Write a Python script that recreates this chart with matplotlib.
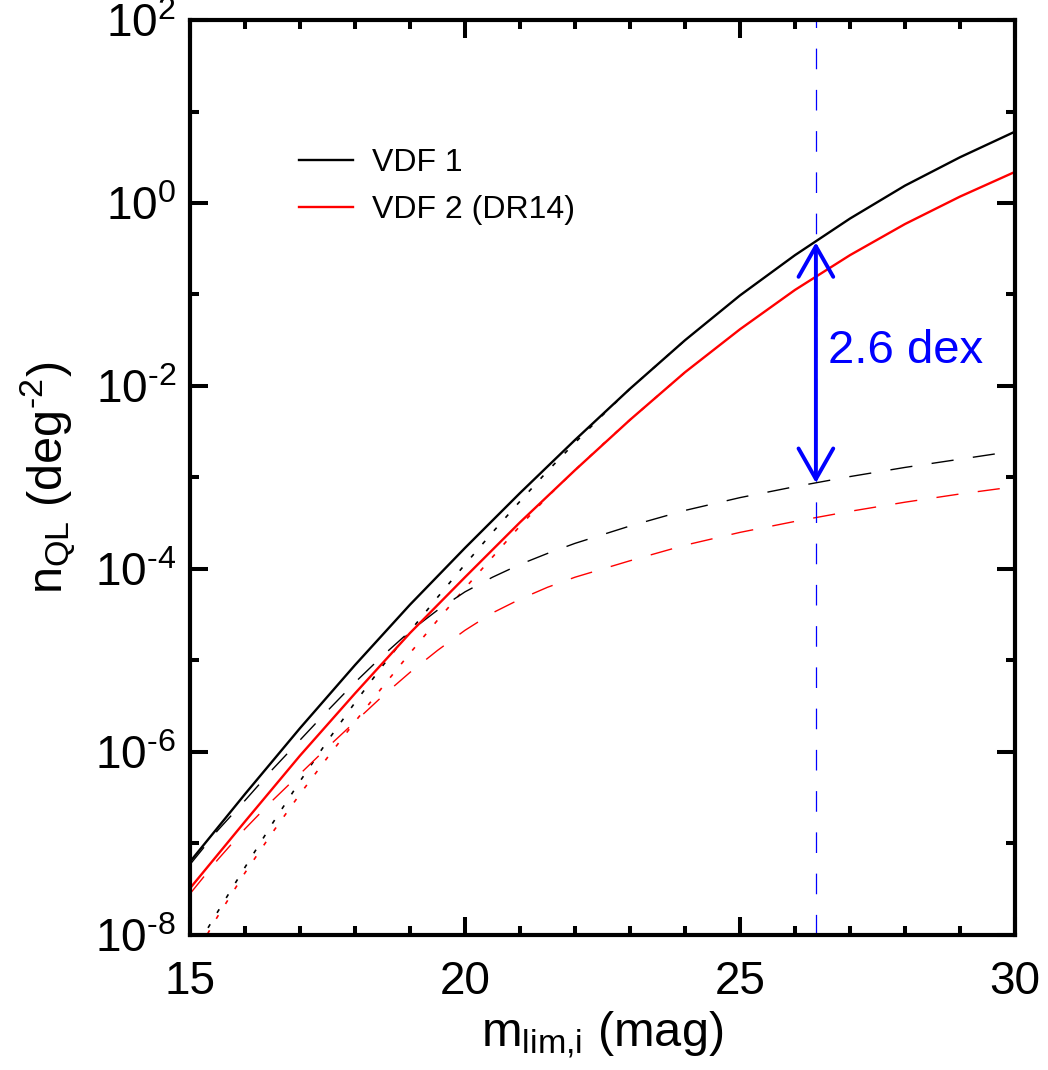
import numpy as np
import matplotlib
matplotlib.use('Agg')
import matplotlib.pyplot as plt
from matplotlib.ticker import FixedLocator, FuncFormatter, NullFormatter, MultipleLocator

plt.rcParams['font.family'] = ['Liberation Sans', 'DejaVu Sans']
plt.rcParams['mathtext.fontset'] = 'custom'
plt.rcParams['mathtext.rm'] = 'Liberation Sans'
plt.rcParams['mathtext.it'] = 'Liberation Sans:italic'

HYPH = '\u2010'  # short hyphen like the IDL labels

# limiting magnitude grid (mag)
mag = [15, 16, 17, 18, 19, 20, 21, 22, 23, 24, 25, 26, 27, 28, 29, 30]
# log10 n_QL (deg^-2)
vdf1_total = [-7.20, -6.46, -5.74, -5.05, -4.39, -3.77, -3.17, -2.59, -2.03,
              -1.50, -1.01, -0.57, -0.17, 0.19, 0.50, 0.78]
vdf2_total = [-7.49, -6.76, -6.04, -5.36, -4.70, -4.09, -3.49, -2.92, -2.37,
              -1.85, -1.38, -0.95, -0.57, -0.23, 0.07, 0.34]

# dashed components, finer grid around the bend
mag_dash = [15.0, 15.5, 16.0, 16.5, 17.0, 17.5, 18.0, 18.5, 19.0, 19.5, 20.0,
            20.5, 21.0, 21.5, 22.0, 23.0, 24.0, 25.0, 26.0, 27.0, 28.0, 29.0, 30.0]
vdf1_dashed = [-7.23, -6.86, -6.53, -6.19, -5.87, -5.55, -5.24, -4.95, -4.68,
               -4.45, -4.25, -4.09, -3.95, -3.83, -3.72, -3.53, -3.36, -3.22,
               -3.10, -2.99, -2.89, -2.80, -2.71]
vdf2_dashed = [-7.55, -7.18, -6.84, -6.53, -6.24, -5.95, -5.67, -5.39, -5.13,
               -4.89, -4.67, -4.48, -4.33, -4.20, -4.09, -3.91, -3.74, -3.60,
               -3.48, -3.37, -3.27, -3.18, -3.10]

# dotted components
mag_dot = [15.0, 15.5, 16.0, 16.5, 17.0, 17.5, 18.0, 18.5, 19.0, 19.5, 20.0,
           20.5, 21.0, 21.5, 22.0, 22.5, 23.0, 24.0]
vdf1_dotted = [-8.25, -7.75, -7.26, -6.78, -6.32, -5.88, -5.46, -5.06, -4.68,
               -4.31, -3.95, -3.60, -3.26, -2.93, -2.62, -2.32, -2.03, -1.50]
vdf2_dotted = [-8.32, -7.80, -7.32, -6.88, -6.46, -6.06, -5.67, -5.29, -4.92,
               -4.56, -4.21, -3.87, -3.53, -3.21, -2.92, -2.64, -2.37, -1.85]

mark_mag = 26.38          # vertical marker
arrow_top = -0.43         # log10 at the VDF 1 total curve
arrow_bottom = -3.06      # log10 at the VDF 1 dashed curve
dex_label = '2.6 dex'

fig = plt.figure(figsize=(10.48, 10.70), dpi=100)
ax = fig.add_axes([0.1813, 0.1262, 0.7872, 0.8551])

# dotted components
ax.plot(mag_dot, np.power(10.0, vdf1_dotted), color='black', lw=1.2, dashes=(2.5, 8))
ax.plot(mag_dot, np.power(10.0, vdf2_dotted), color='red', lw=1.2, dashes=(2.5, 8))
# dashed components
ax.plot(mag_dash, np.power(10.0, vdf1_dashed), color='black', lw=1.0, dashes=(16, 14))
ax.plot(mag_dash, np.power(10.0, vdf2_dashed), color='red', lw=1.0, dashes=(16, 14))
# totals
ax.plot(mag, np.power(10.0, vdf1_total), color='black', lw=1.7, label='VDF 1')
ax.plot(mag, np.power(10.0, vdf2_total), color='red', lw=1.7, label='VDF 2 (DR14)')

ax.axvline(mark_mag, color='blue', lw=0.9, dashes=(16.5, 16.5))
ax.annotate('', xy=(mark_mag, 10 ** arrow_top), xytext=(mark_mag, 10 ** arrow_bottom),
            arrowprops=dict(arrowstyle='<->,head_length=2.2,head_width=1.25',
                            color='blue', lw=2.8, shrinkA=0, shrinkB=0))
ax.text(26.6, 10 ** -1.75, dex_label, color='blue', fontsize=34,
        ha='left', va='baseline')

ax.set_yscale('log')
ax.set_xlim(15, 30)
ax.set_ylim(1e-8, 1e2)


def exp_label(v, pos):
    k = int(round(np.log10(v)))
    s = str(abs(k))
    if k < 0:
        s = HYPH + s
    return r'$\mathregular{10^{%s}}$' % s


ax.xaxis.set_major_locator(FixedLocator([15, 20, 25, 30]))
ax.xaxis.set_minor_locator(MultipleLocator(1))
ax.yaxis.set_major_locator(FixedLocator([10.0 ** k for k in range(-8, 3, 2)]))
ax.yaxis.set_minor_locator(FixedLocator([10.0 ** k for k in range(-7, 2, 2)]))
ax.yaxis.set_major_formatter(FuncFormatter(exp_label))
ax.yaxis.set_minor_formatter(NullFormatter())

ax.tick_params(which='both', direction='in', top=True, right=True, width=2.9)
ax.tick_params(which='major', length=13, labelsize=33)
ax.tick_params(which='minor', length=6.5)
ax.tick_params(axis='x', which='major', pad=18)
ax.tick_params(axis='y', which='major', pad=10)
for sp in ax.spines.values():
    sp.set_linewidth(3)

ax.set_xlabel(r'm$_{\mathregular{lim{,}i}}$ (mag)', fontsize=35, labelpad=4)
ax.set_ylabel(r'n$_{\mathregular{QL}}$ (deg$^{\mathregular{%s2}}$)' % HYPH,
              fontsize=35, labelpad=12)

ax.legend(loc='upper left', bbox_to_anchor=(0.132, 0.860), frameon=False,
          fontsize=23, borderpad=0, borderaxespad=0, handlelength=1.69,
          handletextpad=0.59, labelspacing=0.52)

fig.savefig('out.png', dpi=100)
